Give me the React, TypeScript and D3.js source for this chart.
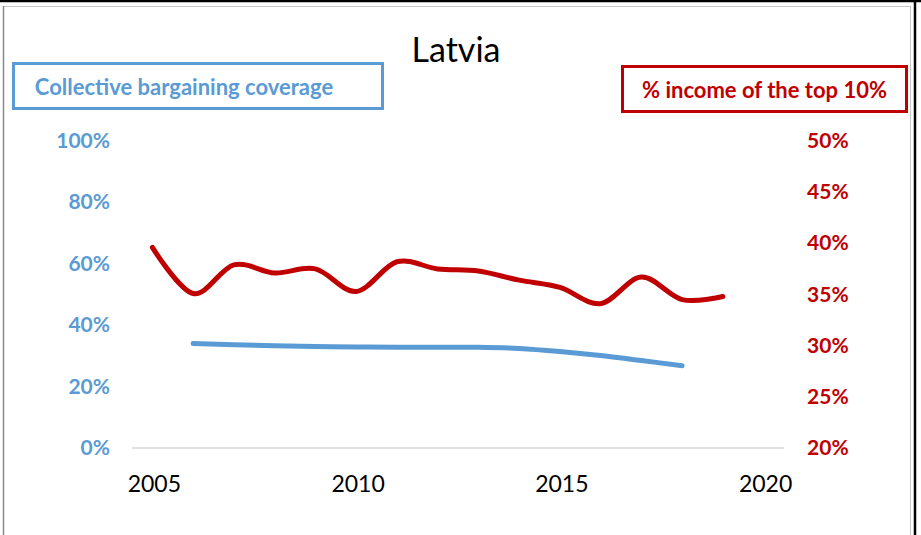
import React from "react";
import * as d3 from "d3";

const incomeYears = [2005, 2006, 2007, 2008, 2009, 2010, 2011, 2012, 2013, 2014, 2015, 2016, 2017, 2018, 2019];
const incomeTop10 = [39.6, 35.1, 37.9, 37.1, 37.5, 35.3, 38.2, 37.5, 37.3, 36.4, 35.7, 34.1, 36.7, 34.5, 34.8];
const coverageYears = [2006, 2007, 2008, 2009, 2010, 2011, 2012, 2013, 2014, 2015, 2016, 2017, 2018];
const coverage = [34.0, 33.6, 33.3, 33.1, 32.9, 32.8, 32.8, 32.8, 32.4, 31.4, 30.1, 28.5, 26.8];
const xTicks = [2005, 2010, 2015, 2020];
const leftTicks = [0, 20, 40, 60, 80, 100];
const rightTicks = [20, 25, 30, 35, 40, 45, 50];

const BLUE = "#5B9BD5";
const RED = "#C00000";
const FONT = "Lato, 'Open Sans', sans-serif";

export default function App() {
  const W = 921, H = 535;
  const plotL = 132, plotR = 784, plotT = 141, plotB = 448;
  const x = d3.scaleLinear().domain([2004.5, 2020.5]).range([plotL, plotR]);
  const yL = d3.scaleLinear().domain([0, 100]).range([plotB, plotT]);
  const yR = d3.scaleLinear().domain([20, 50]).range([plotB, plotT]);

  const redLine = d3.line<number>()
    .x((_, i) => x(incomeYears[i]))
    .y((d) => yR(d))
    .curve(d3.curveCardinal.tension(0));
  const blueLine = d3.line<number>()
    .x((_, i) => x(coverageYears[i]))
    .y((d) => yL(d))
    .curve(d3.curveCardinal.tension(0));

  return (
    <svg width={W} height={H} style={{ position: "absolute", left: 0, top: 0, background: "#fff" }} fontFamily={FONT}>
      <rect x={0} y={0} width={W} height={H} fill="#fff" />
      {/* chart area border */}
      <rect x={3.5} y={6.5} width={907} height={H} fill="none" stroke="#c8c8c8" strokeWidth={1} />
      <line x1={3.5} y1={6} x2={3.5} y2={H} stroke="#8a8a8a" strokeWidth={1.5} />
      {/* outer black frame */}
      <line x1={0} y1={1} x2={W} y2={1} stroke="#000" strokeWidth={2.5} />
      <line x1={915} y1={0} x2={915} y2={H} stroke="#000" strokeWidth={2.5} />

      {/* title */}
      <text x={456} y={62} textAnchor="middle" fontSize={34} fill="#000">Latvia</text>

      {/* legend boxes */}
      <rect x={13.5} y={63.5} width={369} height={45} fill="none" stroke={BLUE} strokeWidth={3} />
      <text x={184} y={95} textAnchor="middle" fontSize={22} fontWeight="bold" fill={BLUE}>Collective bargaining coverage</text>
      <rect x={622.5} y={66.5} width={284} height={45} fill="none" stroke={RED} strokeWidth={3} />
      <text x={764.5} y={98} textAnchor="middle" fontSize={22} fontWeight="bold" fill={RED}>% income of the top 10%</text>

      {/* x axis line */}
      <line x1={plotL} y1={plotB} x2={plotR} y2={plotB} stroke="#d9d9d9" strokeWidth={1.5} />

      {/* left axis */}
      {leftTicks.map((t) => (
        <text key={"l" + t} x={110} y={yL(t) + 7} textAnchor="end" fontSize={21} fontWeight="bold" fill={BLUE}>{t}%</text>
      ))}
      {/* right axis */}
      {rightTicks.map((t) => (
        <text key={"r" + t} x={807} y={yR(t) + 7} textAnchor="start" fontSize={21} fontWeight="bold" fill={RED}>{t}%</text>
      ))}
      {/* x axis labels */}
      {xTicks.map((t) => (
        <text key={"x" + t} x={x(t) + 2} y={492} textAnchor="middle" fontSize={23} fill="#000">{t}</text>
      ))}

      {/* series */}
      <path d={blueLine(coverage) || ""} fill="none" stroke={BLUE} strokeWidth={5} strokeLinecap="round" strokeLinejoin="round" />
      <path d={redLine(incomeTop10) || ""} fill="none" stroke={RED} strokeWidth={5} strokeLinecap="round" strokeLinejoin="round" />
    </svg>
  );
}
